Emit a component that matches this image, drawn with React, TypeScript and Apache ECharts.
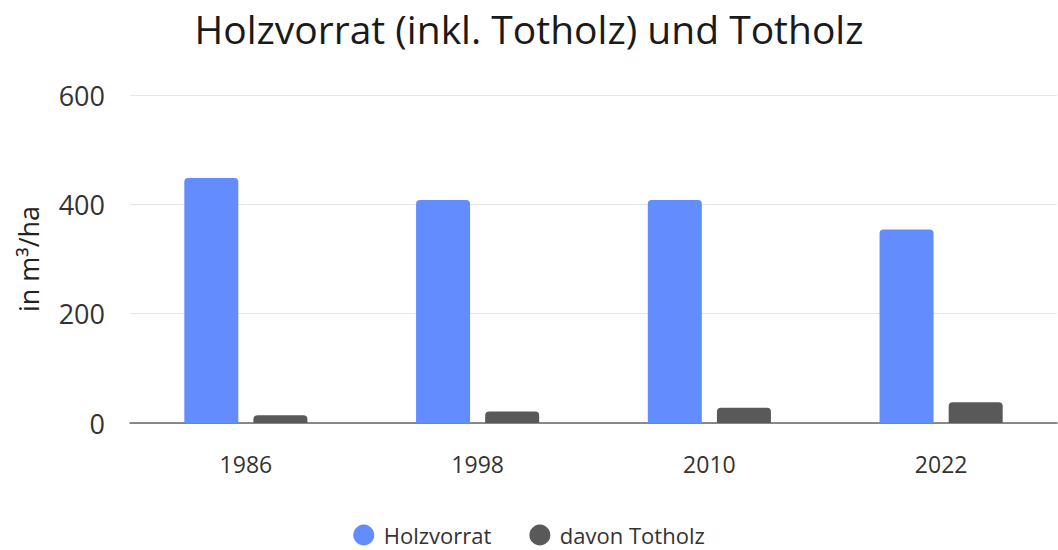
import React, { useEffect, useRef } from "react";
import * as echarts from "echarts";

const categories = ["1986", "1998", "2010", "2022"];
const holzvorrat = [448, 408, 408, 354];
const totholz = [14, 21, 28, 38];
const yTicks = { min: 0, max: 600, interval: 200 };

export default function App() {
  const ref = useRef<HTMLDivElement>(null);
  useEffect(() => {
    document.body.style.margin = "0";
    const chart = echarts.init(ref.current!, null, { renderer: "svg" });
    const font = "Open Sans";
    chart.setOption({
      animation: false,
      backgroundColor: "#ffffff",
      title: {
        text: "Holzvorrat (inkl. Totholz) und Totholz",
        left: "center",
        top: 4,
        textStyle: { fontFamily: font, fontSize: 39, fontWeight: "normal", color: "#1a1a1a" },
      },
      legend: {
        bottom: 0,
        left: "center",
        padding: [0, 5, 0, 5],
        icon: "circle",
        itemWidth: 30,
        itemHeight: 21,
        itemGap: 38,
        textStyle: { fontFamily: font, fontSize: 22, lineHeight: 30, color: "#333" },
        data: ["Holzvorrat", "davon Totholz"],
      },
      grid: { left: 130, right: 1, top: 95, bottom: 127, containLabel: false },
      xAxis: {
        type: "category",
        data: categories,
        axisTick: { show: false },
        axisLine: { lineStyle: { color: "#666", width: 1.5 } },
        axisLabel: { fontFamily: font, fontSize: 23, color: "#333", margin: 29 },
      },
      yAxis: {
        type: "value",
        min: yTicks.min,
        max: yTicks.max,
        interval: yTicks.interval,
        name: "in m³/ha",
        nameLocation: "middle",
        nameGap: 88,
        nameTextStyle: { fontFamily: font, fontSize: 27, color: "#222" },
        axisLabel: { fontFamily: font, fontSize: 27, color: "#333", margin: 25 },
        splitLine: { lineStyle: { color: "#e6e6e6", width: 1 } },
        axisLine: { show: false },
      },
      series: [
        {
          name: "Holzvorrat",
          type: "bar",
          data: holzvorrat,
          barWidth: 54,
          barGap: "28%",
          itemStyle: { color: "#638cff", borderRadius: [4, 4, 0, 0] },
        },
        {
          name: "davon Totholz",
          type: "bar",
          data: totholz,
          barWidth: 54,
          itemStyle: { color: "#595959", borderRadius: [4, 4, 0, 0] },
        },
      ],
    });
    return () => chart.dispose();
  }, []);
  return <div ref={ref} style={{ width: 1058, height: 550 }} />;
}
